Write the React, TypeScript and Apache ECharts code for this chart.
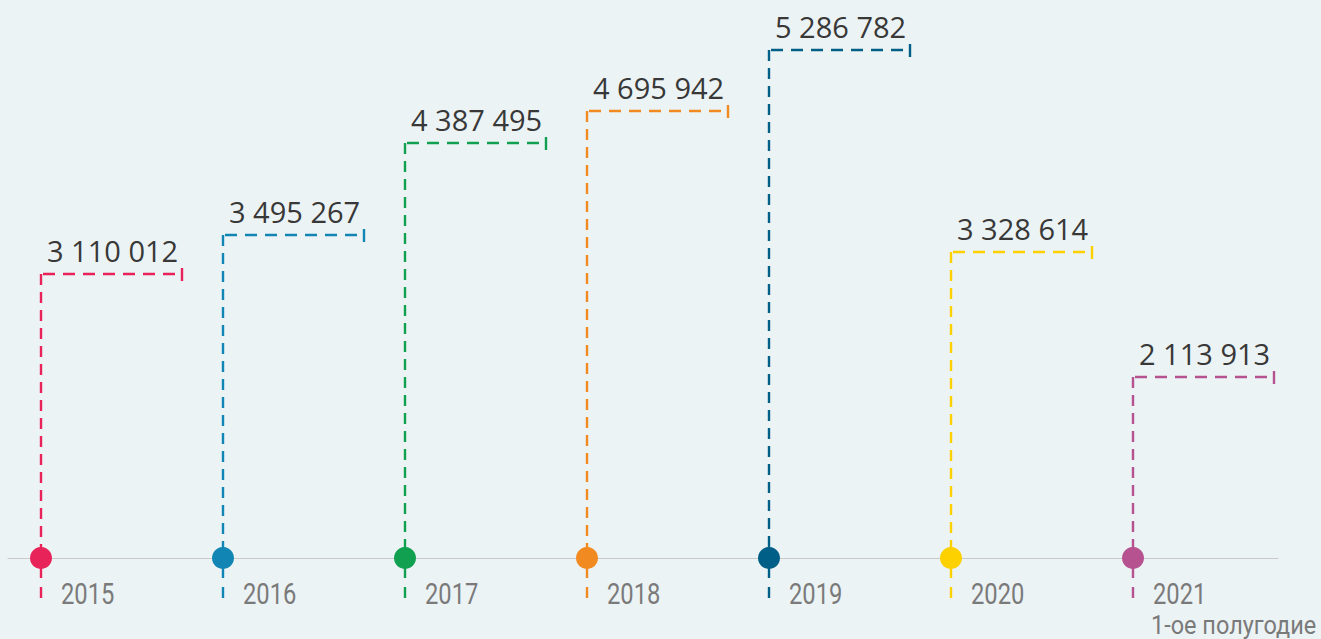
import React, { useEffect, useRef } from "react";
import * as echarts from "echarts";

const years: string[] = ["2015", "2016", "2017", "2018", "2019", "2020", "2021"];
const values: number[] = [3110012, 3495267, 4387495, 4695942, 5286782, 3328614, 2113913];
const colors: string[] = ["#e8235a", "#1186b4", "#10a04f", "#f28a22", "#005f86", "#fdd000", "#b5528f"];
const subLabels: string[] = ["", "", "", "", "", "", "1-ое полугодие"];

const fmt = (v: number) => String(Math.round(v)).replace(/\B(?=(\d{3})+(?!\d))/g, " ");

export default function App() {
  const ref = useRef<HTMLDivElement>(null);
  useEffect(() => {
    if (!ref.current) return;
    const chart = echarts.init(ref.current, undefined, { renderer: "svg" });
    const numFont = "'Open Sans', 'Noto Sans', sans-serif";
    const yearFont = "Roboto, 'Noto Sans', sans-serif";
    chart.setOption({
      animation: false,
      backgroundColor: "#ecf3f5",
      grid: { left: 8, right: 43, top: 28, bottom: 44 },
      xAxis: {
        type: "value",
        min: -0.1813,
        max: 6.7967,
        offset: -37,
        axisLine: { show: true, lineStyle: { color: "#c9c9c9", width: 1 } },
        axisTick: { show: false },
        axisLabel: { show: false },
        splitLine: { show: false },
      },
      yAxis: {
        type: "value",
        min: 0,
        max: 5500000,
        show: false,
        splitLine: { show: false },
      },
      series: [
        {
          type: "custom",
          data: values.map((v, i) => [i, v]),
          encode: { x: 0, y: 1 },
          renderItem: (params: any, api: any) => {
            const i = params.dataIndex;
            const x = api.value(0);
            const v = api.value(1);
            const top = api.coord([x, v]);
            const zero = api.coord([x, 0]);
            const px = Math.round(top[0]);
            const py = Math.round(top[1]);
            const baseY = zero[1] - 37;
            const c = colors[i];
            const children: any[] = [
              {
                type: "line",
                shape: { x1: px, y1: py, x2: px, y2: baseY },
                style: { stroke: c, lineWidth: 2.4, lineDash: [11, 7] },
              },
              {
                type: "line",
                shape: { x1: px, y1: baseY, x2: px, y2: zero[1] + 3 },
                style: { stroke: c, lineWidth: 2.4, lineDash: [20, 9, 12, 100] },
              },
              {
                type: "line",
                shape: { x1: px + 2, y1: py, x2: px + 141, y2: py },
                style: { stroke: c, lineWidth: 2.4, lineDash: [12, 8] },
              },
              {
                type: "line",
                shape: { x1: px + 141, y1: py - 6, x2: px + 141, y2: py + 7 },
                style: { stroke: c, lineWidth: 2.4 },
              },
              {
                type: "circle",
                shape: { cx: px, cy: baseY, r: 11 },
                style: { fill: c },
              },
              {
                type: "text",
                x: px + 6,
                y: py - 9,
                style: {
                  text: fmt(v),
                  fill: "#383838",
                  font: `29px ${numFont}`,
                  align: "left",
                  verticalAlign: "bottom",
                },
              },
              {
                type: "text",
                x: px + 20,
                y: zero[1] - 1,
                scaleX: 0.82,
                style: {
                  text: years[i],
                  fill: "#7a7a7a",
                  font: `29px ${yearFont}`,
                  align: "left",
                  verticalAlign: "middle",
                },
              },
            ];
            if (subLabels[i]) {
              children.push({
                type: "text",
                x: px + 18,
                y: zero[1] + 30,
                scaleX: 0.94,
                style: {
                  text: subLabels[i],
                  fill: "#7a7a7a",
                  font: `25px ${yearFont}`,
                  align: "left",
                  verticalAlign: "middle",
                },
              });
            }
            return { type: "group", children };
          },
        },
      ],
    });
    return () => chart.dispose();
  }, []);
  return (
    <div
      ref={ref}
      style={{ position: "fixed", left: 0, top: 0, width: 1321, height: 639, background: "#ecf3f5" }}
    />
  );
}
